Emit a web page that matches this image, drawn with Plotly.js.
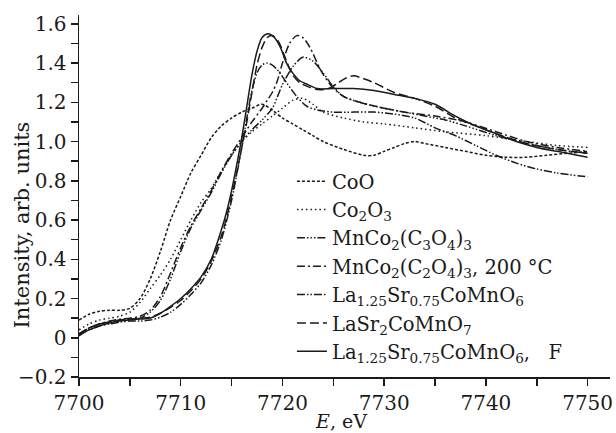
<!DOCTYPE html>
<html>
<head>
<meta charset="utf-8">
<script src="https://cdn.plot.ly/plotly-3.0.1.min.js"></script>
<style>html,body{margin:0;padding:0;background:#fff;}#chart{width:616px;height:433px;}</style>
</head>
<body>
<div id="chart"></div>
<script>
// ---- data ----
const seriesNames = [
  "CoO",
  "Co<sub>2</sub>O<sub>3</sub>",
  "MnCo<sub>2</sub>(C<sub>3</sub>O<sub>4</sub>)<sub>3</sub>",
  "MnCo<sub>2</sub>(C<sub>2</sub>O<sub>4</sub>)<sub>3</sub>, 200 °C",
  "La<sub>1.25</sub>Sr<sub>0.75</sub>CoMnO<sub>6</sub>",
  "LaSr<sub>2</sub>CoMnO<sub>7</sub>",
  "La<sub>1.25</sub>Sr<sub>0.75</sub>CoMnO<sub>6</sub>,\u00A0\u00A0 F"
];

const eCoO = [7700,7701,7702,7703,7704,7705,7706,7707,7708,7709,7710,7711,7712,7713,7714,7715,7716,7717,7718,7719,7720,7721,7722,7723,7724,7726,7728,7729,7730,7731,7732,7733,7734,7736,7738,7740,7742,7744,7746,7748,7750];
const iCoO = [0.09,0.12,0.135,0.14,0.14,0.15,0.20,0.30,0.44,0.60,0.72,0.84,0.93,1.02,1.08,1.12,1.15,1.17,1.19,1.16,1.12,1.09,1.06,1.03,1.00,0.96,0.93,0.93,0.95,0.97,0.99,1.00,0.99,0.97,0.95,0.93,0.92,0.92,0.93,0.94,0.95];

const eCo2O3 = [7700,7701,7702,7703,7704,7705,7706,7707,7708,7709,7710,7711,7712,7713,7714,7715,7716,7717,7718,7719,7720,7721,7722,7723,7724,7726,7728,7730,7733,7736,7740,7744,7747,7750];
const iCo2O3 = [0.04,0.07,0.09,0.10,0.11,0.13,0.18,0.25,0.32,0.40,0.50,0.60,0.69,0.76,0.85,0.93,1.00,1.05,1.09,1.13,1.17,1.21,1.22,1.19,1.15,1.12,1.10,1.09,1.07,1.05,1.03,1.00,0.98,0.97];

const eMnC3 = [7700,7701,7702,7703,7704,7705,7706,7707,7708,7709,7710,7711,7712,7713,7714,7715,7716,7717,7718,7719,7720,7721,7722,7723,7724,7725,7726,7727.6,7730,7732,7734,7736,7738,7741,7744,7747,7750];
const iMnC3 = [0.02,0.05,0.07,0.08,0.09,0.095,0.10,0.13,0.19,0.30,0.44,0.56,0.65,0.74,0.84,0.93,1.00,1.06,1.11,1.17,1.29,1.38,1.43,1.41,1.35,1.28,1.23,1.20,1.17,1.15,1.13,1.11,1.08,1.03,0.99,0.96,0.94];

const eMnC2 = [7700,7701,7702,7703,7704,7705,7706,7707,7708,7709,7710,7711,7712,7713,7714,7715,7716,7717,7718,7718.5,7719,7719.5,7720,7720.7,7721.4,7722,7722.7,7723.7,7724.7,7726,7727.6,7730,7732,7735,7738,7741,7744,7747,7750];
const iMnC2 = [0.02,0.05,0.07,0.085,0.095,0.10,0.11,0.14,0.21,0.33,0.46,0.57,0.66,0.75,0.85,0.94,1.02,1.10,1.17,1.21,1.25,1.31,1.40,1.50,1.54,1.53,1.48,1.37,1.29,1.23,1.20,1.17,1.15,1.13,1.10,1.05,1.00,0.97,0.95];

const eLa125 = [7700,7701,7702,7703,7704,7705,7706,7707,7708,7709,7710,7711,7712,7713,7714,7715,7715.5,7716,7716.5,7717,7717.5,7718,7718.5,7719,7719.6,7720.4,7721.4,7722.4,7723.5,7725,7727,7729,7731,7733,7735,7737,7739,7741,7743,7745,7747,7750];
const iLa125 = [0.015,0.04,0.06,0.07,0.08,0.085,0.085,0.09,0.105,0.13,0.17,0.22,0.28,0.37,0.50,0.70,0.83,0.97,1.12,1.26,1.35,1.39,1.40,1.39,1.36,1.30,1.23,1.18,1.16,1.15,1.15,1.15,1.14,1.12,1.07,1.03,0.98,0.93,0.89,0.86,0.84,0.82];

const eLaSr2 = [7700,7701,7702,7703,7704,7705,7706,7707,7708,7709,7710,7711,7712,7713,7714,7714.5,7715,7715.5,7716,7716.5,7717,7717.5,7718,7718.5,7719,7719.6,7720.4,7721,7721.7,7722.5,7723.5,7724.5,7725.5,7726.3,7727,7728,7729,7731,7733,7735,7737,7739,7741,7744,7747,7750];
const iLaSr2 = [0.02,0.05,0.07,0.08,0.09,0.095,0.10,0.105,0.125,0.155,0.19,0.24,0.30,0.39,0.52,0.61,0.72,0.84,0.97,1.10,1.25,1.39,1.48,1.53,1.54,1.51,1.41,1.34,1.30,1.28,1.265,1.27,1.30,1.325,1.335,1.32,1.30,1.25,1.22,1.18,1.12,1.08,1.04,0.99,0.96,0.94];

const eLaF = [7700,7701,7702,7703,7704,7705,7706,7707,7708,7709,7710,7711,7712,7713,7714,7714.5,7715,7715.5,7716,7716.5,7717,7717.5,7718,7718.6,7719.2,7719.8,7720.4,7721,7721.7,7722.5,7723.4,7725,7727,7729,7731,7733,7735,7737,7739,7741,7743,7745,7747,7750];
const iLaF = [0.01,0.04,0.06,0.075,0.085,0.09,0.095,0.10,0.125,0.16,0.20,0.25,0.31,0.40,0.55,0.64,0.75,0.88,1.02,1.18,1.34,1.46,1.53,1.55,1.53,1.48,1.40,1.35,1.31,1.29,1.27,1.27,1.27,1.26,1.24,1.22,1.19,1.13,1.08,1.04,1.00,0.97,0.95,0.92];

const xTickVals = [7700,7710,7720,7730,7740,7750];
const xTickText = ["7700","7710","7720","7730","7740","7750"];
const yTickVals = [-0.2,0,0.2,0.4,0.6,0.8,1.0,1.2,1.4,1.6];
const yTickText = ["\u22120.2","0","0.2","0.4","0.6","0.8","1.0","1.2","1.4","1.6"];

// ---- styles ----
const dashes = [
  "3px,2px",
  "1.5px,3px",
  "8px,2px,1.5px,2px,1.5px,2px,1.5px,2px",
  "8px,3px,2px,3px",
  "8px,2px,1.5px,2px,1.5px,2px",
  "9px,4px",
  "solid"
];
const xs = [eCoO,eCo2O3,eMnC3,eMnC2,eLa125,eLaSr2,eLaF];
const ys = [iCoO,iCo2O3,iMnC3,iMnC2,iLa125,iLaSr2,iLaF];

const FONT = "DejaVu Serif";
const traces = xs.map((x,k)=>({
  x: x, y: ys[k], type: "scatter", mode: "lines", name: seriesNames[k],
  line: {color: "#1a1a1a", width: 1.5, dash: dashes[k], shape: "spline", smoothing: 0.8}
}));

const layout = {
  width: 616, height: 433,
  margin: {l: 79, r: 6, t: 15, b: 56},
  paper_bgcolor: "#fff", plot_bgcolor: "#fff",
  font: {family: FONT, size: 20, color: "#1a1a1a"},
  showlegend: true,
  legend: {
    x: 0.401, y: 0.594, xanchor: "left", yanchor: "top",
    bgcolor: "rgba(0,0,0,0)", borderwidth: 0,
    font: {family: FONT, size: 19.5, color: "#1a1a1a"},
    tracegroupgap: 0, itemwidth: 30
  },
  xaxis: {
    range: [7700, 7752.2], showgrid: false, zeroline: false,
    showline: true, linecolor: "#1a1a1a", linewidth: 1.5,
    ticks: "outside", ticklen: 7, tickwidth: 1.5, tickcolor: "#1a1a1a",
    tickmode: "array", tickvals: xTickVals, ticktext: xTickText,
    tickfont: {family: FONT, size: 20},
    minor: {dtick: 5, tick0: 7700, ticks: "outside", ticklen: 7, tickwidth: 1.5, tickcolor: "#1a1a1a", showgrid: false}
  },
  yaxis: {
    range: [-0.2, 1.645], showgrid: false, zeroline: false,
    showline: true, linecolor: "#1a1a1a", linewidth: 1.5,
    ticks: "outside", ticklen: 7, tickwidth: 1.5, tickcolor: "#1a1a1a",
    tickmode: "array", tickvals: yTickVals, ticktext: yTickText,
    tickfont: {family: FONT, size: 20},
    minor: {dtick: 0.1, tick0: 0, ticks: "outside", ticklen: 7, tickwidth: 1.5, tickcolor: "#1a1a1a", showgrid: false}
  },
  annotations: [
    {text: "Intensity, arb. units", xref: "paper", yref: "paper", x: -0.107, y: 0.419,
     xanchor: "center", yanchor: "middle", textangle: -90, showarrow: false,
     font: {family: FONT, size: 21}},
    {text: "<i>E</i>, eV", xref: "paper", yref: "paper", x: 0.493, y: -0.1225,
     xanchor: "center", yanchor: "middle", showarrow: false,
     font: {family: FONT, size: 19}}
  ]
};

Plotly.newPlot("chart", traces, layout, {displayModeBar: false, staticPlot: true});
</script>
</body>
</html>
